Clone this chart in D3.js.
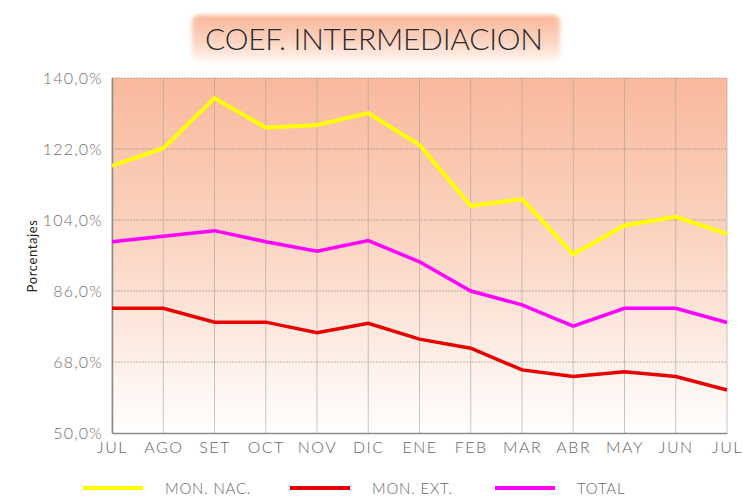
<!DOCTYPE html>
<html><head><meta charset="utf-8">
<script src="https://cdn.jsdelivr.net/npm/d3@7"></script>
<style>body{margin:0;background:#fff}svg{display:block}</style>
</head><body>
<script>
const months = ["JUL","AGO","SET","OCT","NOV","DIC","ENE","FEB","MAR","ABR","MAY","JUN","JUL"];
const monNac = [117.7,122.2,134.9,127.4,128.1,131.1,123.0,107.6,109.3,95.3,102.6,104.8,100.5];
const monExt = [81.6,81.6,78.1,78.1,75.4,77.8,73.8,71.5,66.0,64.3,65.5,64.3,60.9];
const total  = [98.5,99.9,101.3,98.5,96.1,98.8,93.4,86.0,82.5,77.1,81.6,81.6,78.0];
const yTicks = [50,68,86,104,122,140];
const seriesNames = ["MON. NAC.","MON. EXT.","TOTAL"];
const seriesColors = ["#ffff00","#e80000","#ff00ff"];

const FONT="Lato, 'Open Sans', sans-serif";
const W=743,H=500;
const svg=d3.select("body").append("svg").attr("width",W).attr("height",H);
const defs=svg.append("defs");
const g1=defs.append("linearGradient").attr("id","bg").attr("x1",0).attr("y1",0).attr("x2",0).attr("y2",1);
g1.append("stop").attr("offset","0%").attr("stop-color","#f9b99c");
g1.append("stop").attr("offset","45%").attr("stop-color","#fbd4c1");
g1.append("stop").attr("offset","100%").attr("stop-color","#ffffff");
const g2=defs.append("linearGradient").attr("id","tb").attr("x1",0).attr("y1",0).attr("x2",0).attr("y2",1);
g2.append("stop").attr("offset","0%").attr("stop-color","#f9b598");
g2.append("stop").attr("offset","60%").attr("stop-color","#fcd6c4");
g2.append("stop").attr("offset","100%").attr("stop-color","#fff4ee");
const blur=defs.append("filter").attr("id","soft").attr("x","-10%").attr("y","-30%").attr("width","120%").attr("height","160%");
blur.append("feGaussianBlur").attr("stdDeviation",2);

// title
svg.append("rect").attr("x",192).attr("y",15).attr("width",368).attr("height",46).attr("rx",7)
  .attr("fill","url(#tb)").attr("filter","url(#soft)");
svg.append("text").attr("x",374).attr("y",50).attr("text-anchor","middle")
  .attr("font-family",FONT).attr("font-weight",300).attr("font-size",30).attr("fill","#2a2a2a")
  .attr("textLength",338).attr("lengthAdjust","spacing").text("COEF. INTERMEDIACION");

const L=112,R=727,T=78,B=433;
const x=d3.scalePoint().domain(d3.range(months.length)).range([L,R]);
const y=d3.scaleLinear().domain([50,140]).range([B,T]);

svg.append("rect").attr("x",L).attr("y",T).attr("width",R-L).attr("height",B-T).attr("fill","url(#bg)");

// grid
svg.append("g").selectAll("line").data(d3.range(months.length)).join("line")
  .attr("x1",d=>x(d)).attr("x2",d=>x(d)).attr("y1",T).attr("y2",B)
  .attr("stroke","#a8a09a").attr("stroke-width",1).attr("opacity",0.6);
svg.append("g").selectAll("line").data(yTicks.slice(1)).join("line")
  .attr("x1",L).attr("x2",R).attr("y1",d=>y(d)).attr("y2",d=>y(d))
  .attr("stroke","#a09890").attr("stroke-width",1).attr("stroke-dasharray","2,1").attr("opacity",0.7);

// axes
const fmt=d=>d.toFixed(1).replace(".",",")+"%";
const ya=svg.append("g").attr("transform",`translate(${L},0)`)
  .call(d3.axisLeft(y).tickValues(yTicks).tickFormat(fmt).tickSize(0).tickPadding(9));
ya.select(".domain").attr("stroke","#8a8a8a").attr("stroke-width",1.5);
ya.selectAll("text").attr("font-family",FONT).attr("font-weight",300).attr("font-size",16)
  .attr("fill","#707070").attr("letter-spacing","1.2");
const xa=svg.append("g").attr("transform",`translate(0,${B})`)
  .call(d3.axisBottom(x).tickFormat(i=>months[i]).tickSize(0).tickPadding(9));
xa.select(".domain").attr("stroke","#8a8a8a").attr("stroke-width",1.5);
xa.selectAll("text").attr("font-family",FONT).attr("font-weight",300).attr("font-size",16)
  .attr("fill","#666").attr("letter-spacing","1.5");

svg.append("text").attr("transform","translate(37,256) rotate(-90)").attr("text-anchor","middle")
  .attr("font-family",FONT).attr("font-size",13).attr("fill","#222").attr("letter-spacing","0.6")
  .text("Porcentajes");

// lines
const line=d3.line().x((d,i)=>x(i)).y(d=>y(d));
const data=[monNac,monExt,total];
const widths=[4,3.5,3.5];
[0,2,1].forEach(k=>{
  svg.append("path").datum(data[k]).attr("d",line).attr("fill","none")
    .attr("stroke",seriesColors[k]).attr("stroke-width",widths[k]).attr("stroke-linejoin","miter");
});

// legend
const legX=[83,290,495];
seriesNames.forEach((n,k)=>{
  svg.append("line").attr("x1",legX[k]).attr("x2",legX[k]+60).attr("y1",488).attr("y2",488)
    .attr("stroke",seriesColors[k]).attr("stroke-width",4);
  svg.append("text").attr("x",legX[k]+82).attr("y",494)
    .attr("font-family",FONT).attr("font-weight",300).attr("font-size",15).attr("fill","#666")
    .attr("letter-spacing","0.8").text(n);
});
</script>
</body></html>
